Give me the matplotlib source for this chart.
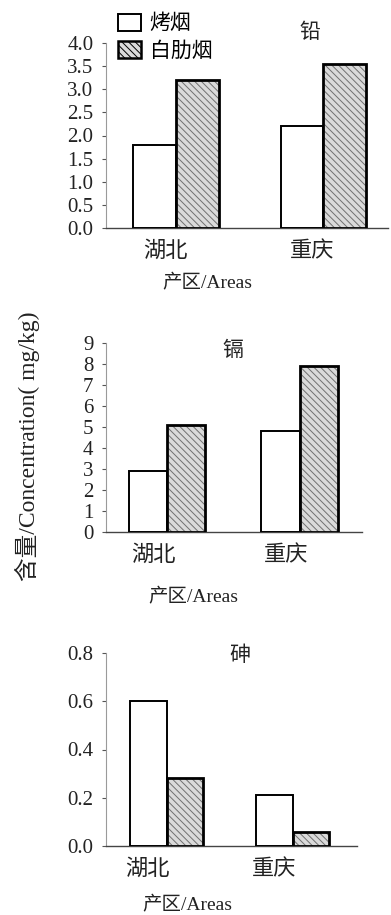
import matplotlib
matplotlib.use("Agg")
import matplotlib.pyplot as plt
from matplotlib.patches import Patch
import numpy as np

plt.rcParams['font.family'] = ['Liberation Serif', 'Noto Sans CJK SC', 'DejaVu Sans']
plt.rcParams['hatch.linewidth'] = 0.7

areas = ['湖北', '重庆']
series = ['烤烟', '白肋烟']
elements = ['铅', '镉', '砷']
lead = {'烤烟': [1.8, 2.2], '白肋烟': [3.2, 3.55]}
cadmium = {'烤烟': [2.9, 4.8], '白肋烟': [5.1, 7.9]}
arsenic = {'烤烟': [0.6, 0.21], '白肋烟': [0.28, 0.06]}
lead_ticks = [0.0, 0.5, 1.0, 1.5, 2.0, 2.5, 3.0, 3.5, 4.0]
cadmium_ticks = [0, 1, 2, 3, 4, 5, 6, 7, 8, 9]
arsenic_ticks = [0.0, 0.2, 0.4, 0.6, 0.8]
xlabel = '产区/Areas'
ylabel = '含量/Concentration( mg/kg)'

W, H = 391, 915
fig = plt.figure(figsize=(W / 100, H / 100), dpi=100)

def px_axes(left, right, top, bottom):
    return fig.add_axes([left / W, 1 - bottom / H, (right - left) / W, (bottom - top) / H])

panels = [
    dict(data=lead, ticks=lead_ticks, fmt='{:.1f}', box=(106, 388, 43, 228), xlim=(-0.476, 1.44),
         title=(310, 32), tickoff=-0.075, xl=(207, 283)),
    dict(data=cadmium, ticks=cadmium_ticks, fmt='{:d}', box=(106, 362, 343, 532), xlim=(-0.46, 1.47),
         title=(233, 350), tickoff=-0.1, xl=(193, 597)),
    dict(data=arsenic, ticks=arsenic_ticks, fmt='{:.1f}', box=(106, 357, 653, 846), xlim=(-0.48, 1.51),
         title=(240, 655), tickoff=-0.15, xl=(187, 905)),
]

x = np.arange(len(areas))
bw = 0.29
hatch_fc = '#dadada'
for el, p in zip(elements, panels):
    l, r, t, b = p['box']
    ax = px_axes(l, r, t, b)
    d = p['data']
    ax.bar(x - bw / 2, d['烤烟'], bw, facecolor='white', edgecolor='black', linewidth=1.4, zorder=3)
    ax.bar(x + bw / 2, d['白肋烟'], bw, facecolor=hatch_fc, edgecolor='#707070', hatch='\\\\\\\\\\',
           linewidth=0, zorder=3)
    ax.bar(x + bw / 2, d['白肋烟'], bw, facecolor='none', edgecolor='black', linewidth=2.0, zorder=4)
    ax.set_xlim(*p['xlim'])
    ax.set_ylim(p['ticks'][0], p['ticks'][-1])
    ax.set_yticks(p['ticks'])
    ax.set_yticklabels([p['fmt'].format(v) for v in p['ticks']], fontsize=15, color='#222222')
    ax.set_xticks(x + p['tickoff'])
    ax.set_xticklabels(areas, fontsize=16, family=['Noto Sans CJK SC'], color='#222222')
    ax.tick_params(axis='x', length=0, pad=8)
    ax.tick_params(axis='y', length=3, width=0.8, direction='out', pad=6, color='#555555')
    for s in ['top', 'right']:
        ax.spines[s].set_visible(False)
    ax.spines['left'].set_color('#9a9a9a')
    ax.spines['left'].set_linewidth(0.8)
    ax.spines['bottom'].set_color('#444444')
    ax.spines['bottom'].set_linewidth(1.0)
    ax.set_xlabel(xlabel, fontsize=14, color='#222222')
    xlx, xly = p['xl']
    ax.xaxis.set_label_coords((xlx - l) / (r - l), (b - xly) / (b - t), transform=ax.transAxes)
    ax.xaxis.label.set_va('center')
    tx, ty = p['title']
    ax.text((tx - l) / (r - l), (b - ty) / (b - t), el, transform=ax.transAxes, ha='center', va='center',
            fontsize=15, family=['Noto Sans CJK SC'], color='#222222')
    if el == '铅':
        handles = [Patch(facecolor='white', edgecolor='black', linewidth=1.4),
                   Patch(facecolor=hatch_fc, edgecolor='black', hatch='\\\\\\\\\\', linewidth=1.8)]
        fig.legend(handles, series, loc='upper left', bbox_to_anchor=(110 / W, 1 - 4 / H), frameon=False,
                   handlelength=1.1, handleheight=0.9, handletextpad=0.4, labelspacing=0.25,
                   borderaxespad=0, prop={'family': ['Noto Sans CJK SC'], 'size': 15})

fig.text(27 / W, 1 - 446 / H, ylabel, rotation=90, ha='center', va='center', fontsize=17, color='#222222')

fig.savefig('out.png', dpi=100)
